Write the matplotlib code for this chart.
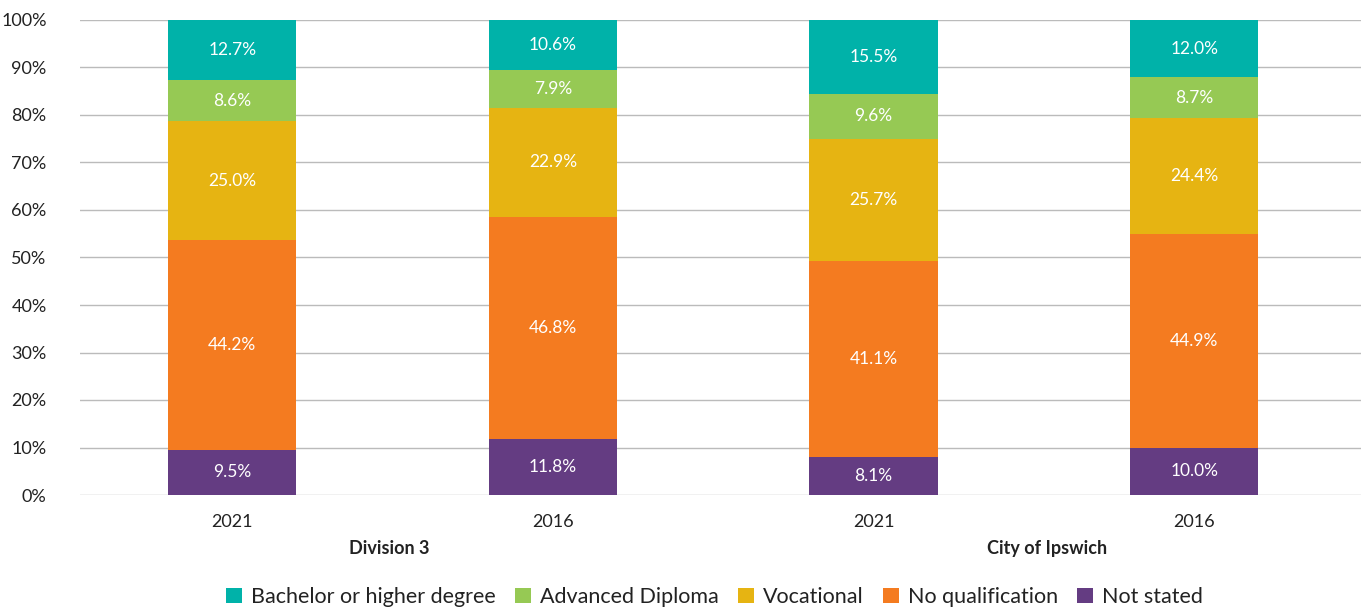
import matplotlib
matplotlib.use("Agg")
import matplotlib.pyplot as plt
import numpy as np

plt.rcParams['font.family'] = ['Lato', 'DejaVu Sans']

years = ["2021", "2016", "2021", "2016"]
groups = ["Division 3", "City of Ipswich"]
series_names = ["Not stated", "No qualification", "Vocational", "Advanced Diploma", "Bachelor or higher degree"]
not_stated = [9.5, 11.8, 8.1, 10.0]
no_qual = [44.2, 46.8, 41.1, 44.9]
vocational = [25.0, 22.9, 25.7, 24.4]
adv_diploma = [8.6, 7.9, 9.6, 8.7]
bachelor = [12.7, 10.6, 15.5, 12.0]
colors = ["#643C82", "#F47B20", "#E6B412", "#96C954", "#00B2A9"]

series = [not_stated, no_qual, vocational, adv_diploma, bachelor]

fig = plt.figure(figsize=(13.61, 6.07), dpi=100)
ax = fig.add_axes([80/1361, 112/607, 1 - 80/1361, 475/607])

x = np.arange(len(years))
bottom = np.zeros(len(years))
handles = []
for vals, name, c in zip(series, series_names, colors):
    vals = np.array(vals)
    b = ax.bar(x, vals, 0.4, bottom=bottom, color=c, label=name, zorder=3)
    handles.append(b)
    for xi, v, bt in zip(x, vals, bottom):
        ax.text(xi, bt + v / 2, f"{v:.1f}%", ha="center", va="center",
                color="white", fontsize=12.5, zorder=4)
    bottom += vals

ax.set_xlim(-0.475, 3.52)
ax.set_ylim(0, 100)
ax.set_yticks(np.arange(0, 101, 10))
ax.set_yticklabels([f"{t}%" for t in range(0, 101, 10)])
ax.yaxis.grid(True, color="#BBBBBB", linewidth=1, zorder=0)
ax.set_xticks(x)
ax.set_xticklabels(years)
ax.tick_params(axis="both", length=0, labelsize=13, colors="#222222")
ax.tick_params(axis="x", pad=14)
ax.tick_params(axis="y", pad=24)
for s in ax.spines.values():
    s.set_visible(False)

group_pos = [0.49, 2.54]
for gx, g in zip(group_pos, groups):
    ax.text(gx, -11.2, g, ha="center", va="center", fontsize=13,
            fontweight="bold", color="#222222", transform=ax.transData)

leg = fig.legend(handles[::-1], series_names[::-1], loc="center", bbox_to_anchor=(0.525, 10/607),
                 ncol=5, frameon=False, fontsize=15.5, handlelength=0.75, handleheight=0.75,
                 columnspacing=0.9, handletextpad=0.4, labelcolor="#222222")

fig.savefig("out.png", dpi=100)
